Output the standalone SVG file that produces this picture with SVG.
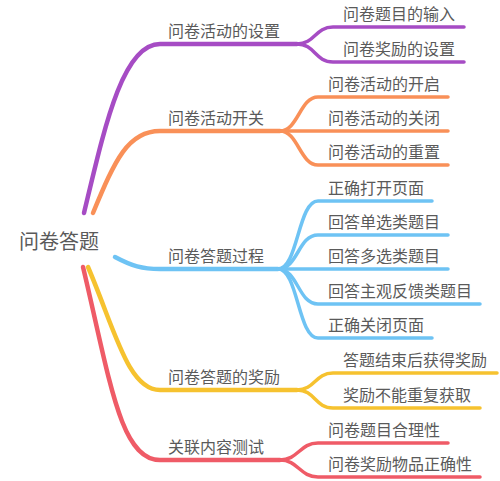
<svg xmlns="http://www.w3.org/2000/svg" width="500" height="481" viewBox="0 0 500 481">
<style>
text{font-family:"Noto Sans CJK SC","Noto Sans",sans-serif;fill:#5a5a5a;font-size:16px}
.root{font-size:20px}
path{fill:none;stroke-linecap:round}
.m{stroke-width:4.5}
.c{stroke-width:3.5}
.pu{stroke:#a64cc4}
.or{stroke:#f99058}
.bl{stroke:#6ec3f4}
.ye{stroke:#f6c22f}
.re{stroke:#ef5b67}
</style>
<rect width="500" height="481" fill="#fff"/>
<g id="connectors">
<path class="m pu" d="M84,213 C104,130 122,44 160,44 L297,44"/>
<path class="c pu" d="M297,44 C315,44 315,27 333,27 L464,27"/>
<path class="c pu" d="M297,44 C315,44 315,62 333,62 L464,62"/>
<path class="m or" d="M93,213 C115,160 128,131 160,131 L280,131"/>
<path class="c or" d="M280,131 C298,131 300,97 318,97 L448,97"/>
<path class="c or" d="M280,131 L448,131"/>
<path class="c or" d="M280,131 C298,131 300,165 318,165 L448,165"/>
<path class="m bl" d="M115,257 C132,266 142,269 160,269 L278,269"/>
<path class="c bl" d="M278,269 C298,269 298,201 318,201 L432,201"/>
<path class="c bl" d="M278,269 C298,269 298,235 318,235 L448,235"/>
<path class="c bl" d="M278,269 L448,269"/>
<path class="c bl" d="M278,269 C298,269 298,304 318,304 L480,304"/>
<path class="c bl" d="M278,269 C298,269 298,338 318,338 L432,338"/>
<path class="m ye" d="M88,267 C115,330 128,390 160,390 L297,390"/>
<path class="c ye" d="M297,390 C315,390 315,373 333,373 L497,373"/>
<path class="c ye" d="M297,390 C315,390 315,408 333,408 L480,408"/>
<path class="m re" d="M83,267 C110,380 120,460 160,460 L280,460"/>
<path class="c re" d="M280,460 C298,460 300,443 318,443 L448,443"/>
<path class="c re" d="M280,460 C298,460 300,477 318,477 L480,477"/>
</g>
<g id="root"><text class="root" x="19" y="249">问卷答题</text></g>
<g id="n1"><text x="168" y="37">问卷活动的设置</text></g>
<g id="n1a"><text x="343" y="20">问卷题目的输入</text></g>
<g id="n1b"><text x="343" y="55">问卷奖励的设置</text></g>
<g id="n2"><text x="168" y="124">问卷活动开关</text></g>
<g id="n2a"><text x="328" y="90">问卷活动的开启</text></g>
<g id="n2b"><text x="328" y="124">问卷活动的关闭</text></g>
<g id="n2c"><text x="328" y="158">问卷活动的重置</text></g>
<g id="n3"><text x="168" y="262">问卷答题过程</text></g>
<g id="n3a"><text x="328" y="194">正确打开页面</text></g>
<g id="n3b"><text x="328" y="228">回答单选类题目</text></g>
<g id="n3c"><text x="328" y="262">回答多选类题目</text></g>
<g id="n3d"><text x="328" y="297">回答主观反馈类题目</text></g>
<g id="n3e"><text x="328" y="331">正确关闭页面</text></g>
<g id="n4"><text x="168" y="383">问卷答题的奖励</text></g>
<g id="n4a"><text x="343" y="366">答题结束后获得奖励</text></g>
<g id="n4b"><text x="343" y="401">奖励不能重复获取</text></g>
<g id="n5"><text x="168" y="453">关联内容测试</text></g>
<g id="n5a"><text x="328" y="436">问卷题目合理性</text></g>
<g id="n5b"><text x="328" y="470">问卷奖励物品正确性</text></g>
</svg>
